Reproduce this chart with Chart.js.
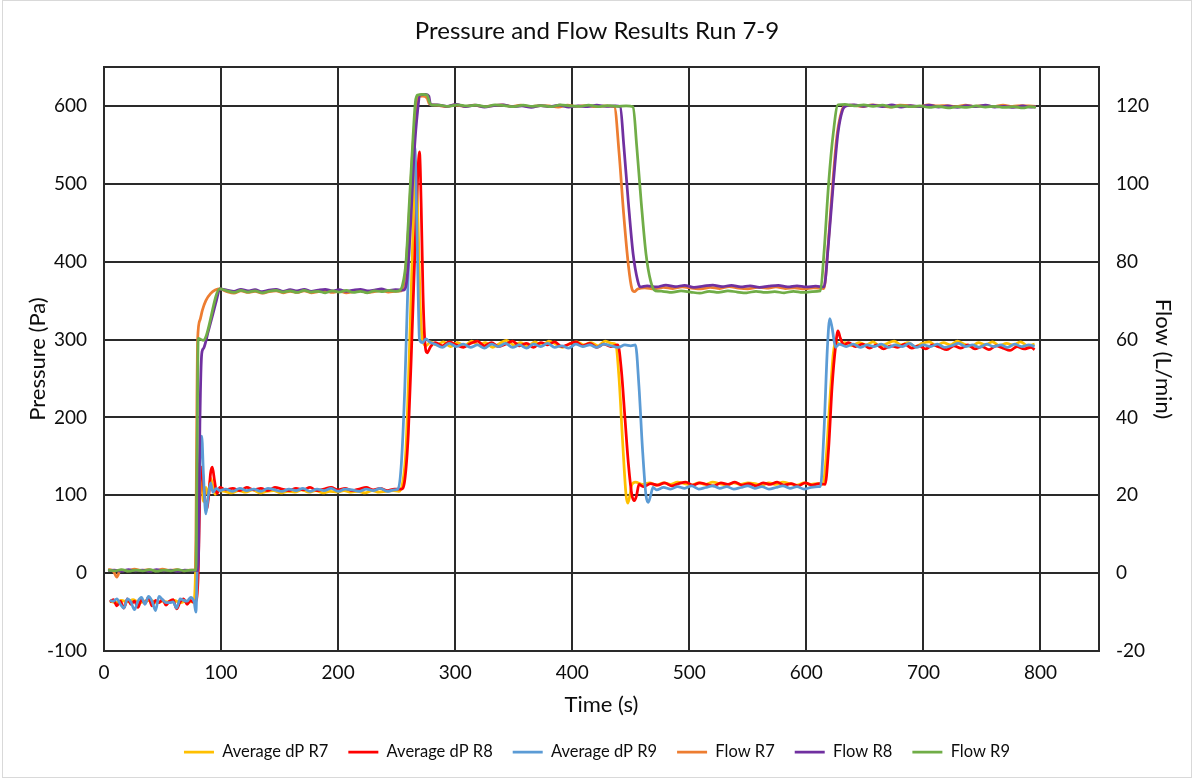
<!DOCTYPE html>
<html>
<head>
<meta charset="utf-8">
<title>Pressure and Flow Results Run 7-9</title>
<script src="https://cdn.jsdelivr.net/npm/chart.js@4.4.1/dist/chart.umd.min.js"></script>
<style>
  html, body { margin: 0; padding: 0; background: #fff; }
  #wrap { width: 1194px; height: 778px; }
</style>
</head>
<body>
<div id="wrap"><canvas id="runChart" width="1194" height="778"></canvas></div>
<script>
// [time (s), differential pressure (Pa)]
const dpR7 = [
  [5,-36],[10,-38],[15,-35],[20,-37],[25,-34],[30,-38],[35,-36],[40,-35],[45,-38],[50,-36],[55,-37],[60,-35],[65,-38],[70,-36],[74,-37],[77,-36],
  [79,40],[81,140],[83,128],[85,92],[87,110],[89,100],[91,122],[93,112],[95,101],[98,106],
  [103,105],[109,103],[115,106],[121,104],[127,107],[133,103],[139,105],[145,106],[151,103],[157,105],[163,104],[169,107],[175,104],[181,106],[187,103],[193,105],[199,104],[205,106],[211,104],[217,105],[223,103],[229,106],[235,104],[241,105],[247,106],[252,105],
  [255,115],[258,160],[261,290],[264,440],[266,530],[268,470],[270,350],[272,300],[275,292],[279,297],
  [284,293],[290,297],[296,291],[302,296],[308,292],[314,298],[320,293],[326,296],[332,290],[338,295],[344,299],[350,293],[356,296],[362,291],[368,297],[374,292],[380,298],[386,294],[392,290],[398,295],[404,297],[410,293],[416,296],[422,292],[428,298],[434,295],
  [437,294],[440,250],[443,170],[446,100],[447.5,90],[449,98],[451,114],[454,117],[460,114],
  [466,116],[472,113],[478,116],[484,114],[490,117],[496,115],[502,113],[508,116],[514,114],[520,117],[526,115],[532,113],[538,116],[544,114],[550,116],[556,115],[562,113],[568,116],[574,114],[580,117],[586,115],[592,113],[598,116],[604,114],[610,115],[614,114],
  [617,150],[620,220],[623,282],[625,298],[628,294],[633,296],
  [639,292],[645,296],[651,293],[657,297],[663,291],[669,295],[675,298],[681,293],[687,296],[693,291],[699,295],[705,297],[711,292],[717,296],[723,293],[729,298],[735,294],[741,291],[747,296],[753,293],[759,297],[765,292],[771,295],[777,293],[783,297],[789,292],[795,294]
];

const dpR8 = [
  [5,-37],[8,-34],[11,-42],[14,-36],[17,-45],[20,-33],[23,-40],[26,-36],[29,-44],[32,-34],[35,-39],[38,-31],[41,-42],[44,-35],[47,-38],[50,-34],[53,-41],[56,-36],[59,-34],[62,-46],[65,-37],[68,-33],[71,-40],[74,-35],[77,-38],[79,-34],
  [80.5,0],[82,110],[83.5,136],[85.5,105],[87.5,82],[89.5,100],[91,128],[92.5,136],[94.5,118],[96.5,102],[99,110],
  [104,107],[110,109],[116,106],[122,110],[128,107],[134,109],[140,106],[146,110],[152,108],[158,106],[164,109],[170,107],[176,110],[182,106],[188,108],[194,110],[200,107],[206,109],[212,106],[218,108],[224,110],[230,107],[236,109],[242,106],[248,108],[254,108],
  [257,120],[260,180],[263,300],[266,430],[268,510],[269.5,541],[271,470],[272.5,360],[274,300],[276,283],[279,291],[283,296],
  [289,292],[295,297],[301,293],[307,290],[313,295],[319,298],[325,292],[331,296],[337,291],[343,294],[349,298],[355,292],[361,295],[367,290],[373,296],[379,293],[385,297],[391,291],[397,294],[403,297],[409,292],[415,295],[421,290],[427,294],[433,291],[439,293],
  [442,260],[445,200],[448,140],[451,100],[453,93],[455,100],[457,114],[461,111],
  [467,115],[473,113],[479,116],[485,112],[491,115],[497,117],[503,113],[509,116],[515,114],[521,112],[527,116],[533,114],[539,117],[545,113],[551,115],[557,112],[563,116],[569,114],[575,117],[581,113],[587,115],[593,112],[599,116],[605,113],[611,115],[616,114],
  [619,160],[622,240],[625,292],[627,311],[629,302],[632,293],[636,296],
  [642,291],[648,294],[654,289],[660,293],[666,288],[672,292],[678,290],[684,294],[690,289],[696,292],[702,288],[708,293],[714,290],[720,287],[726,292],[732,289],[738,293],[744,288],[750,291],[756,287],[762,292],[768,289],[774,286],[780,291],[786,288],[792,290],[795,287]
];

const dpR9 = [
  [5,-35],[8,-36],[11,-33],[14,-40],[17,-45],[20,-33],[23,-37],[26,-47],[29,-36],[32,-31],[35,-40],[38,-30],[41,-36],[44,-48],[47,-30],[50,-34],[53,-38],[56,-38],[59,-37],[62,-45],[65,-33],[68,-35],[71,-36],[74,-31],[77,-37],[78.5,-50],
  [80,30],[82,145],[83.5,176],[85,125],[87,76],[89,98],[91,116],[93,104],[96,109],[99,106],
  [104,108],[110,105],[116,109],[122,106],[128,108],[134,105],[140,109],[146,107],[152,105],[158,108],[164,106],[170,109],[176,105],[182,108],[188,106],[194,109],[200,105],[206,108],[212,107],[218,105],[224,108],[230,106],[236,109],[242,105],[248,107],[251,108],
  [254,140],[257,240],[260,390],[263,510],[265.5,547],[267.5,430],[269.5,300],[272,296],[275,301],[278,297],
  [283,294],[289,290],[295,295],[301,291],[307,294],[313,290],[319,293],[325,289],[331,294],[337,291],[343,295],[349,290],[355,293],[361,289],[367,294],[373,291],[379,295],[385,290],[391,292],[397,289],[403,294],[409,291],[415,293],[421,290],[427,294],[433,292],[439,290],[445,293],[450,292],[454,293],
  [457,240],[460,160],[463,100],[465,91],[467,100],[469,110],[472,107],
  [478,110],[484,108],[490,111],[496,109],[502,112],[508,108],[514,110],[520,112],[526,109],[532,111],[538,108],[544,110],[550,112],[556,109],[562,111],[568,108],[574,110],[580,112],[586,109],[592,111],[598,108],[604,110],[610,111],[612,111],
  [615,180],[618,290],[620,327],[622,315],[625,290],[628,294],
  [634,291],[640,294],[646,290],[652,293],[658,291],[664,294],[670,290],[676,293],[682,291],[688,295],[694,290],[700,293],[706,291],[712,294],[718,290],[724,292],[730,295],[736,291],[742,293],[748,290],[754,294],[760,291],[766,293],[772,290],[778,294],[784,291],[790,293],[795,291]
];

// [time (s), flow (L/min)]
const flowR7 = [
  [3.5,1],[8,0.5],[11,-1],[14,0.8],[20,0.6],[26,1],[32,0.7],[38,0.9],[44,0.6],[50,1],[56,0.7],[62,0.9],[68,0.6],[74,0.8],[78,0.8],
  [80,60],[82,65],[84,67.5],[87,70],[91,71.8],[95,72.7],[99,73],
  [105,72.3],[111,71.9],[117,72.5],[123,72.1],[129,72.4],[135,71.9],[141,72.3],[147,72.5],[153,72.0],[159,72.4],[165,72.1],[171,72.5],[177,72.0],[183,72.3],[189,72.5],[195,72.1],[201,72.4],[207,72.0],[213,72.3],[219,72.5],[225,72.1],[231,72.3],[237,72.6],[243,72.2],[249,72.4],[254,72.5],
  [257,76],[260,88],[263,105],[266,118],[268,122],[272,122.5],[276,122],[278,120.5],
  [284,120.2],[292,119.8],[300,120.3],[308,119.9],[316,120.2],[324,119.8],[332,120.1],[340,120.3],[348,119.9],[356,120.2],[364,119.8],[372,120.1],[380,120.0],[388,119.7],[396,120.2],[404,119.9],[412,120.1],[420,119.8],[428,120.0],[436,119.8],
  [440,108],[444,92],[448,79],[451,73],[453,72.3],[456,73],
  [462,73.3],[470,73.0],[478,73.4],[486,73.1],[494,73.5],[502,73.2],[510,73.0],[518,73.4],[526,73.1],[534,73.6],[542,73.2],[550,73.0],[558,73.4],[566,73.2],[574,73.5],[582,73.1],[590,73.3],[598,73.0],[606,73.3],[615,73.1],
  [618,82],[622,98],[626,112],[630,118.5],[633,120],
  [640,120.2],[648,119.8],[656,120.3],[664,120.0],[672,119.7],[680,120.2],[688,120.1],[696,119.8],[704,120.3],[712,120.0],[720,120.1],[728,119.8],[736,120.2],[744,119.9],[752,120.1],[760,119.8],[768,120.2],[776,119.9],[784,120.1],[790,120.0],[796,119.9]
];

const flowR8 = [
  [3.5,0.6],[9,0.8],[15,0.5],[21,0.9],[27,0.6],[33,0.8],[39,0.5],[45,0.9],[51,0.6],[57,0.8],[63,0.5],[69,0.8],[75,0.6],[80.5,0.7],
  [82,40],[83.5,56.4],[85,57.7],[89,62],[93,66.5],[96,70],[99,73],
  [105,72.7],[111,72.4],[117,72.9],[123,72.5],[129,72.8],[135,72.3],[141,72.7],[147,72.9],[153,72.4],[159,72.8],[165,72.5],[171,72.9],[177,72.4],[183,72.7],[189,72.9],[195,72.5],[201,72.8],[207,72.4],[213,72.7],[219,72.9],[225,72.5],[231,72.7],[237,73.0],[243,72.6],[249,72.8],[256,72.7],
  [259,76],[262,90],[265,108],[268,119],[270,122.8],[275,123],[277.5,122.5],[279,120.3],
  [285,120.3],[293,119.9],[301,120.4],[309,119.8],[317,120.2],[325,119.7],[333,120.1],[341,120.3],[349,119.8],[357,120.0],[365,119.6],[373,120.1],[381,119.8],[389,120.2],[397,119.7],[405,120.0],[413,119.8],[421,120.2],[429,119.9],[437,120.0],[441,119.8],
  [444,110],[448,95],[452,82],[456,75],[458,73.5],
  [464,73.8],[472,73.5],[480,74.0],[488,73.6],[496,73.9],[504,73.4],[512,73.7],[520,74.0],[528,73.6],[536,73.9],[544,73.5],[552,73.8],[560,73.4],[568,73.7],[576,73.9],[584,73.5],[592,73.8],[600,73.5],[608,73.7],[615,73.5],
  [619,85],[623,100],[627,113],[631,119],[634,120],
  [641,120.3],[649,119.9],[657,120.2],[665,119.8],[673,120.3],[681,119.7],[689,120.1],[697,119.8],[705,120.2],[713,119.7],[721,120.0],[729,119.6],[737,120.1],[745,119.8],[753,120.2],[761,119.7],[769,119.9],[777,119.6],[785,120.0],[791,119.7],[796,119.8]
];

const flowR9 = [
  [3.5,0.8],[9,0.6],[15,0.9],[21,0.5],[27,0.8],[33,0.6],[39,0.9],[45,0.5],[51,0.8],[57,0.6],[63,0.9],[69,0.6],[75,0.8],[78.5,0.7],
  [79.5,30],[80.5,60.3],[84.7,59.8],[99,73],
  [105,72.5],[111,72.1],[117,72.6],[123,72.2],[129,72.5],[135,72.0],[141,72.4],[147,72.6],[153,72.2],[159,72.5],[165,72.1],[171,72.6],[177,72.2],[183,72.4],[189,72.0],[195,72.5],[201,72.2],[207,72.6],[213,72.1],[219,72.4],[225,72.0],[231,72.5],[237,72.3],[243,72.6],[249,72.4],[252,72.5],
  [255,74],[258,80],[261,96],[264,112],[266,121],[268,122.8],[272,123],[276,122.8],[278,121],[280,120.2],
  [286,120.2],[294,119.9],[302,120.3],[310,120.0],[318,120.2],[326,119.8],[334,120.3],[342,120.1],[350,119.8],[358,120.2],[366,119.9],[374,120.1],[382,119.8],[390,120.3],[398,120.0],[406,119.9],[414,120.2],[422,119.8],[430,120.1],[438,119.9],[446,120.0],[452,119.8],
  [455,110],[459,95],[463,82],[467,75],[471,72.5],
  [477,72.4],[485,72.1],[493,72.5],[501,72.2],[509,71.9],[517,72.4],[525,72.1],[533,72.5],[541,72.2],[549,72.0],[557,72.4],[565,72.1],[573,72.3],[581,72.0],[589,72.4],[597,72.1],[605,72.3],[612,72.5],
  [615,82],[619,100],[623,113],[627,120.3],
  [633,120.4],[641,120.0],[649,120.3],[657,119.9],[665,120.2],[673,119.7],[681,120.1],[689,119.8],[697,120.0],[705,119.6],[713,119.9],[721,119.5],[729,119.8],[737,119.6],[745,120.0],[753,119.7],[761,119.9],[769,119.6],[777,119.8],[785,119.5],[791,119.8],[796,119.6]
];

const seriesNames = ['Average dP R7', 'Average dP R8', 'Average dP R9', 'Flow R7', 'Flow R8', 'Flow R9'];
const seriesColors = ['#FFC000', '#FF0000', '#5B9BD5', '#ED7D31', '#7030A0', '#70AD47'];

const FONT = 'Lato, Carlito, Calibri, sans-serif';
const INK = '#0d0d0d';
const GRID = '#2a2a2a';

// outline of the plot area plus the thin frame round the whole chart
const frames = {
  id: 'frames',
  beforeDatasetsDraw(chart) {
    const { ctx, chartArea: a } = chart;
    ctx.save();
    ctx.strokeStyle = GRID;
    ctx.lineWidth = 2;
    ctx.strokeRect(a.left, a.top, a.right - a.left, a.bottom - a.top);
    ctx.restore();
  },
  afterDraw(chart) {
    const ctx = chart.ctx;
    ctx.save();
    ctx.strokeStyle = '#d9d9d9';
    ctx.lineWidth = 1;
    ctx.strokeRect(2.5, 0.5, chart.width - 5, chart.height - 1);
    ctx.restore();
  }
};

function makeSet(i, points, axis) {
  return {
    label: seriesNames[i],
    data: points,
    yAxisID: axis,
    borderColor: seriesColors[i],
    backgroundColor: seriesColors[i],
    borderWidth: 2.75,
    pointRadius: 0,
    pointHoverRadius: 0,
    showLine: true,
    fill: false,
    cubicInterpolationMode: 'monotone',
    order: 6 - i   // later series are painted on top
  };
}

const ctx = document.getElementById('runChart').getContext('2d');
new Chart(ctx, {
  type: 'scatter',
  data: {
    datasets: [
      makeSet(0, dpR7, 'y'),
      makeSet(1, dpR8, 'y'),
      makeSet(2, dpR9, 'y'),
      makeSet(3, flowR7, 'y1'),
      makeSet(4, flowR8, 'y1'),
      makeSet(5, flowR9, 'y1')
    ]
  },
  options: {
    responsive: false,
    animation: false,
    events: [],
    layout: { padding: { left: 0, right: 0, top: 0, bottom: 7.75 } },
    plugins: {
      tooltip: { enabled: false },
      title: {
        display: true,
        text: 'Pressure and Flow Results Run 7-9',
        color: INK,
        font: { family: FONT, size: 24, weight: 'normal' },
        padding: { top: 16.6, bottom: 21.6 }
      },
      legend: {
        position: 'bottom',
        labels: {
          color: INK,
          font: { family: FONT, size: 16.5 },
          usePointStyle: true,
          pointStyle: 'line',
          pointStyleWidth: 30,
          padding: 20,
          sort: (a, b) => a.datasetIndex - b.datasetIndex
        }
      }
    },
    scales: {
      x: {
        type: 'linear',
        position: 'bottom',
        min: 0,
        max: 850,
        afterFit: s => { s.height = 72.75; },
        ticks: { stepSize: 100, includeBounds: false, padding: 10.6, color: INK, font: { family: FONT, size: 19 } },
        grid: { color: GRID, lineWidth: 2, drawTicks: false },
        border: { display: false },
        title: { display: true, text: 'Time (s)', color: INK, font: { family: FONT, size: 22 }, padding: { top: 0, bottom: 5.55 } }
      },
      y: {
        type: 'linear',
        position: 'left',
        min: -100,
        max: 650,
        afterFit: s => { s.width = 104; },
        ticks: { stepSize: 100, includeBounds: false, padding: 17, color: INK, font: { family: FONT, size: 19 } },
        grid: { color: GRID, lineWidth: 2, drawTicks: false },
        border: { display: false },
        title: { display: true, text: 'Pressure (Pa)', color: INK, font: { family: FONT, size: 22 }, padding: { top: 24.3, bottom: 0 } }
      },
      y1: {
        type: 'linear',
        position: 'right',
        min: -20,
        max: 130,
        afterFit: s => { s.width = 95; },
        ticks: { stepSize: 20, includeBounds: false, padding: 17, color: INK, font: { family: FONT, size: 19 } },
        grid: { drawOnChartArea: false, drawTicks: false },
        border: { display: false },
        title: { display: true, text: 'Flow (L/min)', color: INK, font: { family: FONT, size: 22 }, padding: { top: 17.8, bottom: 0 } }
      }
    }
  },
  plugins: [frames]
});
</script>
</body>
</html>
